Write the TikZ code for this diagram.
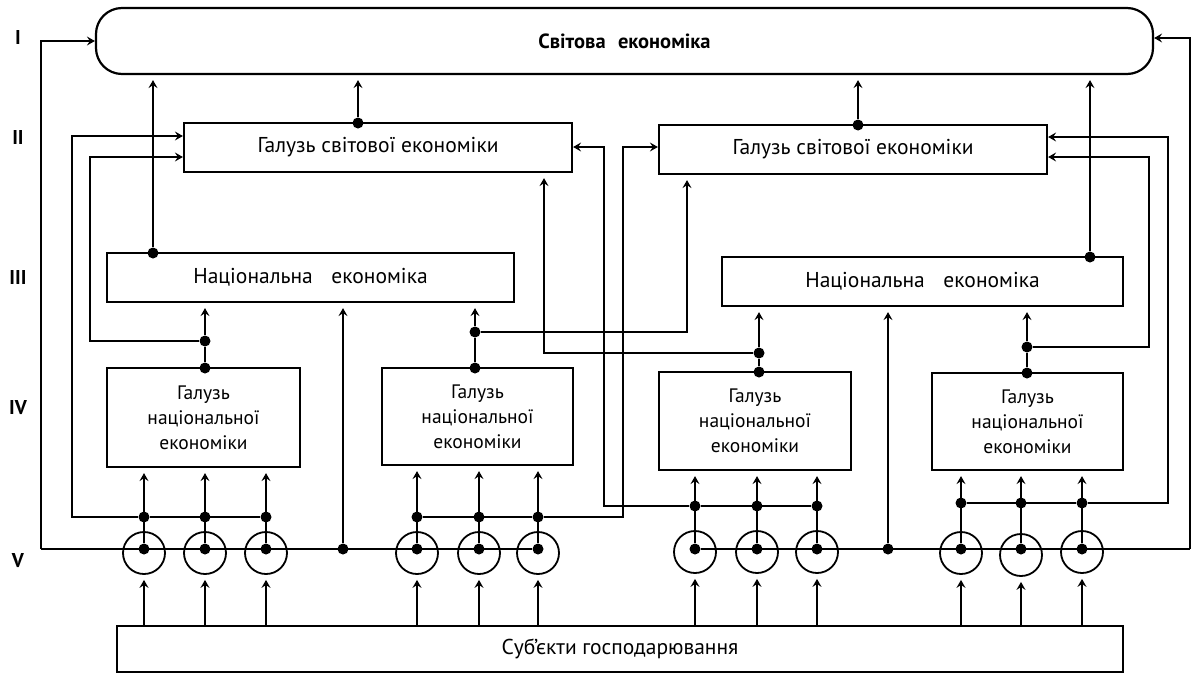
\documentclass[tikz,border=0pt]{standalone}
\usepackage{fontspec}
\setmainfont{PT Sans}
\usetikzlibrary{arrows.meta}

\begin{document}
\begin{tikzpicture}[x=1pt, y=-1pt, line width=1.7pt,
  box/.style = {draw, line width=2.2pt, inner sep=0pt, align=center, font=\fontsize{21.5}{25}\selectfont},
  small/.style = {font=\fontsize{19.5}{25}\selectfont},
  ring/.style = {draw, circle, inner sep=0pt, minimum size=42pt, line width=1.8pt},
  dot/.style = {circle, fill, inner sep=0pt, minimum size=11pt},
  lvl/.style = {font=\fontsize{20}{22}\selectfont\bfseries},
  arr/.style = {-{Stealth[length=8pt,width=9pt,inset=3pt]}},
  up/.style = {arr, shorten >=5pt}]
\useasboundingbox (0,0) rectangle (1192,675);

% levels
\node[lvl] (r1) at (18,37) {I};
\node[lvl] (r2) at (18,137) {II};
\node[lvl] (r3) at (18,277) {III};
\node[lvl] (r4) at (18,408) {IV};
\node[lvl] (r5) at (18,561) {V};

% boxes
\node[box, rounded corners=26pt, minimum width=1057pt, minimum height=66pt, font=\fontsize{20.5}{22}\selectfont\bfseries] (world) at (624.5,41) {Світова\hspace{0.35em} економіка};
\node[box, minimum width=388pt, minimum height=49pt] (gs1) at (378,147.5) {Галузь світової економіки};
\node[box, minimum width=388pt, minimum height=49pt] (gs2) at (853,149.5) {Галузь світової економіки};
\node[box, minimum width=407pt, minimum height=49pt] (ne1) at (310.5,277.5) {Національна\hspace{0.6em} економіка};
\node[box, minimum width=401pt, minimum height=49pt] (ne2) at (922.5,281.5) {Національна\hspace{0.6em} економіка};
\node[box, small, minimum width=193pt, minimum height=99pt] (g1) at (203.5,417.5) {Галузь\\національної\\економіки};
\node[box, small, minimum width=191pt, minimum height=97pt] (g2) at (477.5,416.5) {Галузь\\національної\\економіки};
\node[box, small, minimum width=192pt, minimum height=98pt] (g3) at (755,421) {Галузь\\національної\\економіки};
\node[box, small, minimum width=191pt, minimum height=97pt] (g4) at (1027.5,421.5) {Галузь\\національної\\економіки};
\node[box, minimum width=1006pt, minimum height=46pt] (subj) at (620,649) {Суб’єкти господарювання};

% rings
\node[ring] (c11) at (144,553) {};
\node[ring] (c12) at (205,553) {};
\node[ring] (c13) at (266,553) {};
\node[ring] (c21) at (417,553) {};
\node[ring] (c22) at (479,553) {};
\node[ring] (c23) at (538,553) {};
\node[ring] (c31) at (695,552) {};
\node[ring] (c32) at (757,552) {};
\node[ring] (c33) at (817,552) {};
\node[ring] (c41) at (961,553) {};
\node[ring] (c42) at (1021,555) {};
\node[ring] (c43) at (1082,552) {};

% dots
\node[dot] (v11) at (144,549) {};
\node[dot] (v12) at (205,549) {};
\node[dot] (v13) at (266,549) {};
\node[dot] (v21) at (417,549) {};
\node[dot] (v22) at (479,549) {};
\node[dot] (v23) at (538,549) {};
\node[dot] (v31) at (695,549) {};
\node[dot] (v32) at (757,549) {};
\node[dot] (v33) at (817,549) {};
\node[dot] (v41) at (961,549) {};
\node[dot] (v42) at (1021,549) {};
\node[dot] (v43) at (1082,549) {};
\node[dot] (s11) at (144,517) {};
\node[dot] (s12) at (205,517) {};
\node[dot] (s13) at (266,517) {};
\node[dot] (s21) at (417,517) {};
\node[dot] (s22) at (479,517) {};
\node[dot] (s23) at (538,517) {};
\node[dot] (s31) at (695,506) {};
\node[dot] (s32) at (757,506) {};
\node[dot] (s33) at (817,506) {};
\node[dot] (s41) at (961,503) {};
\node[dot] (s42) at (1021,503) {};
\node[dot] (s43) at (1082,503) {};
\node[dot] (m1) at (343,549) {};
\node[dot] (m2) at (888,549) {};
\node[dot] (t1) at (205,368) {};
\node[dot] (u1) at (205,341) {};
\node[dot] (t2) at (475,368) {};
\node[dot] (u2) at (475,332) {};
\node[dot] (t3) at (759,372) {};
\node[dot] (u3) at (759,353) {};
\node[dot] (t4) at (1027,373) {};
\node[dot] (u4) at (1027,347) {};
\node[dot] (n1) at (153,253) {};
\node[dot] (n2) at (1090,257) {};
\node[dot] (w1) at (358,123) {};
\node[dot] (w2) at (858,125) {};

% corners
\coordinate (vl) at (41,549);
\coordinate (vr) at (1190,549);
\coordinate (k1) at (90,157);
\coordinate (k2) at (72,136);
\coordinate (k3) at (544,353);
\coordinate (k4) at (687,332);
\coordinate (k5) at (623,147);
\coordinate (k6) at (1149,157);
\coordinate (k7) at (604,147);
\coordinate (k8) at (1168,137);

% level V line and outer loops
\draw (vl) -- (v23);
\draw (v31) -- (vr);
\draw[arr] (vl) |- (world.west);
\draw[arr] (vr) |- ([yshift=3pt]world.east);

% subjects to rings
\draw[up] (c11 |- subj.north) -- (c11.south);
\draw[up] (c12 |- subj.north) -- (c12.south);
\draw[up] (c13 |- subj.north) -- (c13.south);
\draw[up] (c21 |- subj.north) -- (c21.south);
\draw[up] (c22 |- subj.north) -- (c22.south);
\draw[up] (c23 |- subj.north) -- (c23.south);
\draw[up] (c31 |- subj.north) -- (c31.south);
\draw[up] (c32 |- subj.north) -- (c32.south);
\draw[up] (c33 |- subj.north) -- (c33.south);
\draw[up] (c41 |- subj.north) -- (c41.south);
\draw[up] (c42 |- subj.north) -- (c42.south);
\draw[up] (c43 |- subj.north) -- (c43.south);

% rings to national branches
\draw[up] (v11) -- (v11 |- g1.south);
\draw[up] (v12) -- (v12 |- g1.south);
\draw[up] (v13) -- (v13 |- g1.south);
\draw[up] (v21) -- (v21 |- g2.south);
\draw[up] (v22) -- (v22 |- g2.south);
\draw[up] (v23) -- (v23 |- g2.south);
\draw[up] (v31) -- (v31 |- g3.south);
\draw[up] (v32) -- (v32 |- g3.south);
\draw[up] (v33) -- (v33 |- g3.south);
\draw[up] (v41) -- (v41 |- g4.south);
\draw[up] (v42) -- (v42 |- g4.south);
\draw[up] (v43) -- (v43 |- g4.south);

% split lines to world branches
\draw[arr] (s13) -- (s11) -| (k2) -- (k2 -| gs1.west);
\draw[arr] (s21) -- (s23) -| (k5) -- (k5 -| gs2.west);
\draw[arr] (s33) -- (s31) -| (k7) -- (k7 -| gs1.east);
\draw[arr] (s41) -- (s43) -| (k8) -- (k8 -| gs2.east);

% national branches upwards
\draw (t1) -- (u1);
\draw (t2) -- (u2);
\draw (t3) -- (u3);
\draw (t4) -- (u4);
\draw[up] (u1) -- (u1 |- ne1.south);
\draw[up] (u2) -- (u2 |- ne1.south);
\draw[up] (u3) -- (u3 |- ne2.south);
\draw[up] (u4) -- (u4 |- ne2.south);
\draw[arr] (u1) -| (k1) -- (k1 -| gs1.west);
\draw[up] (u2) -- (k4) -- (k4 |- gs2.south);
\draw[up] (u3) -- (k3) -- (k3 |- gs1.south);
\draw[arr] (u4) -| (k6) -- (k6 -| gs2.east);
\draw[up] (m1) -- (m1 |- ne1.south);
\draw[up] (m2) -- (m2 |- ne2.south);

% to world economy
\draw[up] (n1) -- (n1 |- world.south);
\draw[up] (n2) -- (n2 |- world.south);
\draw[up] (w1) -- (w1 |- world.south);
\draw[up] (w2) -- (w2 |- world.south);
\end{tikzpicture}
\end{document}
